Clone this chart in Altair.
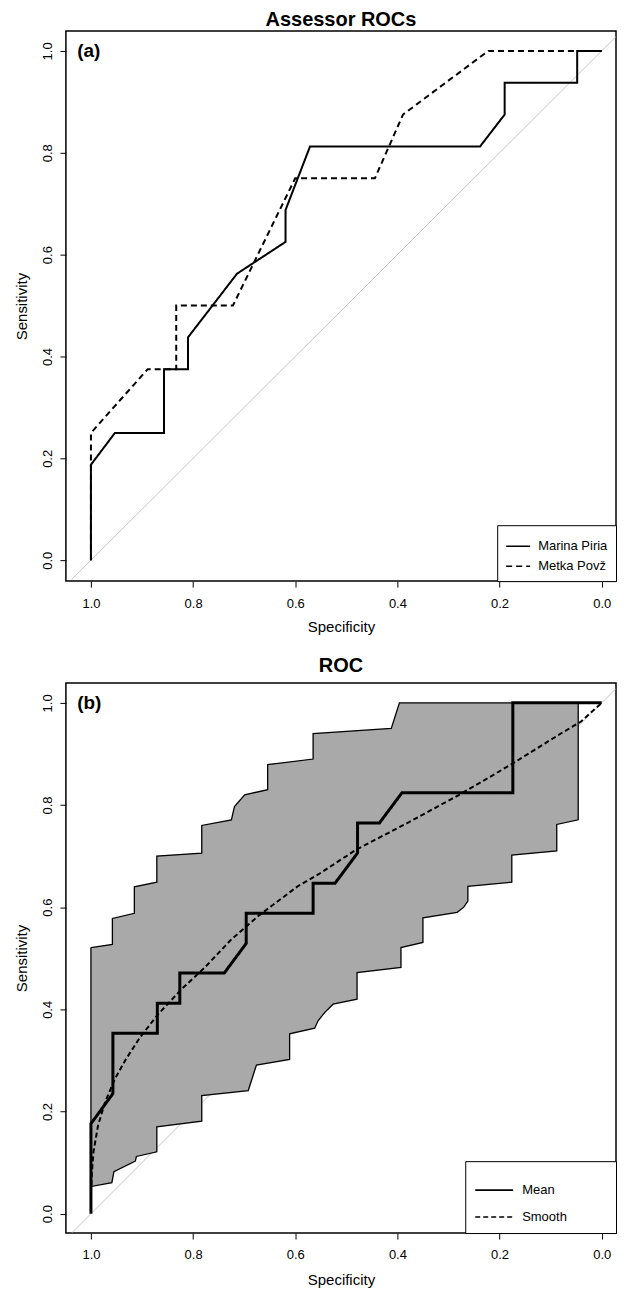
import altair as alt
import pandas as pd

FONT = "Liberation Sans"

# ---------------- Panel (a): assessor ROC curves ----------------
marina_spec = [1.0, 1.0, 0.953, 0.857, 0.857, 0.810, 0.810, 0.714, 0.619, 0.619,
               0.571, 0.238, 0.190, 0.190, 0.048, 0.048, 0.0]
marina_sens = [0.0, 0.1875, 0.25, 0.25, 0.375, 0.375, 0.4375, 0.5625, 0.625, 0.6875,
               0.8125, 0.8125, 0.875, 0.9375, 0.9375, 1.0, 1.0]
metka_spec = [1.0, 1.0, 0.889, 0.833, 0.833, 0.722, 0.600, 0.444, 0.389, 0.222, 0.0]
metka_sens = [0.0, 0.25, 0.375, 0.375, 0.5, 0.5, 0.75, 0.75, 0.875, 1.0, 1.0]
assessors = ["Marina Piria", "Metka Povž"]

# ---------------- Panel (b): mean ROC, smooth ROC and band ----------------
mean_spec = [1.0, 1.0, 0.957, 0.957, 0.870, 0.870, 0.826, 0.826, 0.739, 0.696, 0.696,
             0.565, 0.565, 0.522, 0.478, 0.478, 0.435, 0.391, 0.174, 0.174, 0.0]
mean_sens = [0.0, 0.176, 0.235, 0.353, 0.353, 0.412, 0.412, 0.471, 0.471, 0.529, 0.588,
             0.588, 0.647, 0.647, 0.706, 0.765, 0.765, 0.824, 0.824, 1.0, 1.0]

smooth_spec = [1.0, 0.998, 0.995, 0.986, 0.972, 0.953, 0.933, 0.904, 0.868, 0.822, 0.777,
               0.725, 0.672, 0.595, 0.555, 0.480, 0.380, 0.279, 0.178, 0.080, 0.041, 0.0]
smooth_sens = [0.04, 0.082, 0.121, 0.173, 0.219, 0.264, 0.300, 0.345, 0.391, 0.440, 0.482,
               0.537, 0.583, 0.641, 0.664, 0.713, 0.765, 0.820, 0.879, 0.940, 0.963, 1.0]

band_upper_spec = [1.0, 0.958, 0.958, 0.915, 0.915, 0.871, 0.871, 0.783, 0.783, 0.725,
                   0.719, 0.699, 0.654, 0.654, 0.565, 0.565, 0.412, 0.396, 0.046]
band_upper_sens = [0.521, 0.527, 0.578, 0.588, 0.640, 0.649, 0.700, 0.706, 0.760, 0.771,
                   0.797, 0.820, 0.830, 0.879, 0.890, 0.940, 0.950, 1.0, 1.0]
band_lower_spec = [0.046, 0.088, 0.088, 0.176, 0.176, 0.262, 0.262, 0.270, 0.283, 0.350,
                   0.350, 0.393, 0.393, 0.479, 0.479, 0.526, 0.542, 0.555, 0.562, 0.611,
                   0.611, 0.676, 0.692, 0.783, 0.783, 0.871, 0.871, 0.911, 0.913, 0.955,
                   0.959, 1.0]
band_lower_sens = [0.771, 0.762, 0.710, 0.702, 0.649, 0.641, 0.612, 0.600, 0.590, 0.579,
                   0.531, 0.521, 0.482, 0.472, 0.420, 0.410, 0.394, 0.378, 0.363, 0.352,
                   0.302, 0.291, 0.241, 0.231, 0.181, 0.170, 0.121, 0.112, 0.103, 0.082,
                   0.0605, 0.053]
series_b = ["Mean", "Smooth"]

# chance diagonal (sensitivity = 1 - specificity), kept inside the plot domain
diag_spec = [1.038, -0.028]
diag_sens = [-0.038, 1.028]
ticks = [0.0, 0.2, 0.4, 0.6, 0.8, 1.0]

# panel letters
letters = ["(a)", "(b)"]
letter_spec = [1.027, 1.027]
letter_sens = [1.0, 1.0]

# ---------------- helpers ----------------
W, H = 551, 551
X_DOM = [-0.028, 1.049]
VIEW = alt.ViewBackground(stroke="black", strokeWidth=1.5, fill="white")


def xenc(label_pad, title_pad):
    return alt.X(
        "spec:Q",
        scale=alt.Scale(domain=X_DOM, reverse=True, nice=False, zero=False),
        axis=alt.Axis(values=ticks, format=".1f", title="Specificity",
                      labelFont=FONT, labelFontSize=13, labelColor="black",
                      labelPadding=label_pad, labelFlush=False, labelOverlap=False,
                      tickSize=6, tickColor="black", tickWidth=1,
                      domain=False, grid=False,
                      titleFont=FONT, titleFontSize=15, titleFontWeight="normal",
                      titleColor="black", titlePadding=title_pad),
    )


def yenc(domain):
    return alt.Y(
        "sens:Q",
        scale=alt.Scale(domain=domain, nice=False, zero=False),
        axis=alt.Axis(values=ticks, format=".1f", title="Sensitivity",
                      labelFont=FONT, labelFontSize=13, labelColor="black",
                      labelAngle=270, labelAlign="center", labelBaseline="bottom",
                      labelPadding=5, labelFlush=False, labelOverlap=False,
                      tickSize=6, tickColor="black", tickWidth=1,
                      domain=False, grid=False,
                      titleFont=FONT, titleFontSize=15, titleFontWeight="normal",
                      titleColor="black", titlePadding=12),
    )


def panel_title(text, offset):
    return alt.TitleParams(text, font=FONT, fontSize=20, fontWeight="bold",
                           color="black", anchor="middle", frame="group",
                           baseline="alphabetic", offset=offset)


# ---------------- panel (a) ----------------
ya_dom = [-0.041, 1.039]
xa = xenc(10, 9)
ya = yenc(ya_dom)

diag_df = pd.DataFrame({"spec": diag_spec, "sens": diag_sens})
df_a = pd.concat([
    pd.DataFrame({"spec": marina_spec, "sens": marina_sens, "who": assessors[0],
                  "i": range(len(marina_spec))}),
    pd.DataFrame({"spec": metka_spec, "sens": metka_sens, "who": assessors[1],
                  "i": range(len(metka_spec))}),
])

diag_a = alt.Chart(diag_df).mark_line(color="#b5b5b5", strokeWidth=0.8, clip=True).encode(x=xa, y=ya)

legend_a = alt.Legend(title=None, orient="bottom-right", offset=0, padding=8,
                      strokeColor="black", fillColor="white", cornerRadius=0,
                      symbolType="stroke", symbolSize=576, symbolStrokeWidth=1.5,
                      symbolStrokeColor="black", labelFont=FONT, labelFontSize=13,
                      labelColor="black", labelOffset=7, rowPadding=0)

lines_a = alt.Chart(df_a).mark_line(color="black", strokeWidth=2).encode(
    x=xa, y=ya,
    strokeDash=alt.StrokeDash("who:N", scale=alt.Scale(domain=assessors, range=[[1, 0], [6, 4]]),
                              legend=legend_a),
    order="i:Q",
)

letter_a = alt.Chart(pd.DataFrame({"spec": letter_spec[:1], "sens": letter_sens[:1],
                                   "t": letters[:1]})).mark_text(
    align="left", baseline="middle", font=FONT, fontSize=19, fontWeight="bold", color="black"
).encode(x=xa, y=ya, text="t:N")

panel_a = alt.layer(diag_a, lines_a, letter_a).properties(
    width=W, height=H, view=VIEW, title=panel_title("Assessor ROCs", -15))

# ---------------- panel (b) ----------------
yb_dom = [-0.038, 1.039]
xb = xenc(10, 11)
yb = yenc(yb_dom)

band_spec = band_upper_spec + band_lower_spec + band_upper_spec[:1]
band_sens = band_upper_sens + band_lower_sens + band_upper_sens[:1]
band_df = pd.DataFrame({"spec": band_spec, "sens": band_sens, "i": range(len(band_spec))})

mean_df = pd.DataFrame({"spec": mean_spec, "sens": mean_sens, "series": series_b[0],
                        "i": range(len(mean_spec))})
smooth_df = pd.DataFrame({"spec": smooth_spec, "sens": smooth_sens, "series": series_b[1],
                          "i": range(len(smooth_spec))})

diag_b = alt.Chart(diag_df).mark_line(color="#b5b5b5", strokeWidth=0.8, clip=True).encode(x=xb, y=yb)

band_b = alt.Chart(band_df).mark_line(fill="#a9a9a9", stroke="black", strokeWidth=1.3,
                                      strokeJoin="miter").encode(
    x=xb, y=yb, order="i:Q")

PAD = "\u00a0" * 11 + "\u200b"
legend_b = alt.Legend(title=None, orient="bottom-right", offset=0, padding=9,
                      strokeColor="black", fillColor="white", cornerRadius=0,
                      symbolType="stroke", symbolSize=1444, symbolStrokeWidth=1.6,
                      symbolStrokeColor="black", labelFont=FONT, labelFontSize=13,
                      labelColor="black", labelOffset=8, rowPadding=0,
                      labelExpr="datum.label + '" + PAD + "'")
dash_b = alt.StrokeDash("series:N", scale=alt.Scale(domain=series_b, range=[[1, 0], [5, 3]]),
                        legend=legend_b)

mean_b = alt.Chart(mean_df).mark_line(color="black", strokeWidth=3).encode(
    x=xb, y=yb, strokeDash=dash_b, order="i:Q")
smooth_b = alt.Chart(smooth_df).mark_line(color="black", strokeWidth=2).encode(
    x=xb, y=yb, strokeDash=dash_b, order="i:Q")

letter_b = alt.Chart(pd.DataFrame({"spec": letter_spec[1:], "sens": letter_sens[1:],
                                   "t": letters[1:]})).mark_text(
    align="left", baseline="middle", font=FONT, fontSize=19, fontWeight="bold", color="black"
).encode(x=xb, y=yb, text="t:N")

panel_b = alt.layer(diag_b, band_b, mean_b, smooth_b, letter_b).properties(
    width=W, height=H, view=VIEW, title=panel_title("ROC", -9))

chart = alt.vconcat(panel_a, panel_b, spacing=20).resolve_scale(
    strokeDash="independent", x="independent", y="independent"
).resolve_legend(strokeDash="independent").properties(
    padding={"left": 6, "top": 0, "right": 0, "bottom": 0}
).configure(background="white").configure_view(stroke="black", strokeWidth=1.5)

chart.save("out.html", embed_options={"renderer": "svg", "actions": False})
